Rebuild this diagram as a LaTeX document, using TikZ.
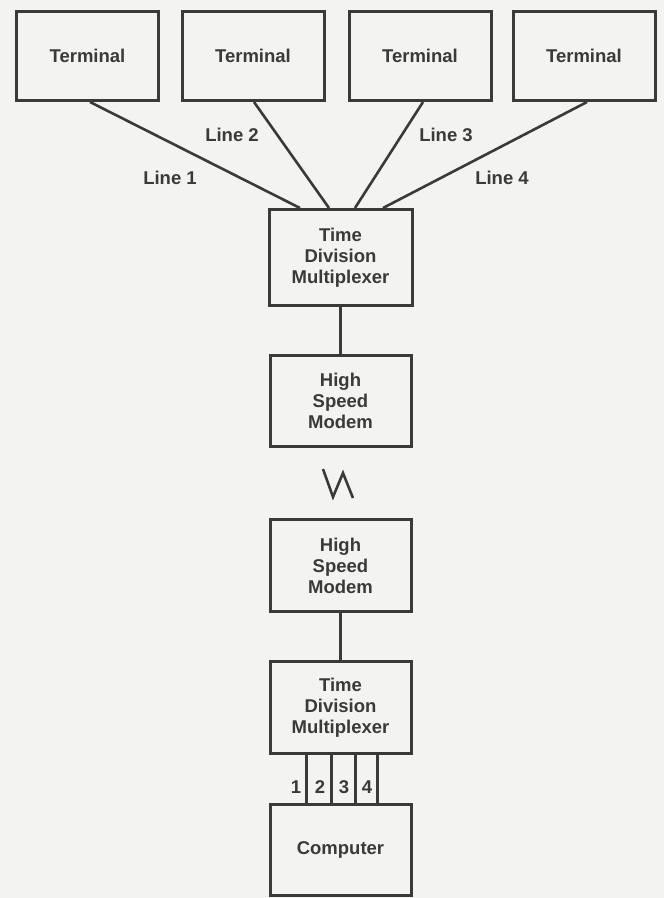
\documentclass[tikz,border=0pt]{standalone}
\usepackage{fontspec}
\setmainfont{Liberation Sans}
\usetikzlibrary{calc}
\definecolor{ink}{HTML}{3A3A3A}
\definecolor{paper}{HTML}{F3F3F1}
\tikzset{
  unitbox/.style={draw=ink, line width=3pt, fill=paper, inner sep=0pt,
    minimum width=141pt, minimum height=91pt, align=center, text=ink,
    font=\bfseries\fontsize{18.5}{21}\selectfont},
  termbox/.style={unitbox, minimum width=142pt, minimum height=89pt},
  wire/.style={draw=ink, line width=2.6pt},
  lbl/.style={text=ink, inner sep=1pt, font=\bfseries\fontsize{18.5}{21}\selectfont}
}
\begin{document}
\begin{tikzpicture}[x=1pt,y=-1pt]
    % Page
    \fill[paper] (0,0) rectangle (664,898);
    \useasboundingbox (0,0) rectangle (664,898);

    % Terminals
    \node[termbox] (t1) at (87.5,56) {Terminal};
    \node[termbox] (t2) at (253,56) {Terminal};
    \node[termbox] (t3) at (420,56) {Terminal};
    \node[termbox] (t4) at (584,56) {Terminal};

    % Multiplexer at terminal end
    \node[unitbox, minimum width=143pt, minimum height=96pt] (mux1) at (340.5,257.5)
        {Time\\Division\\Multiplexer};

    % Lines to the multiplexer
    \draw[wire] ($(t1.south)+(2.5,0)$) -- ($(mux1.north)+(-40.5,0)$);
    \draw[wire] ($(t2.south)+(1,0)$) -- ($(mux1.north)+(-11.5,0)$);
    \draw[wire] ($(t3.south)+(3,0)$) -- ($(mux1.north)+(14.5,0)$);
    \draw[wire] ($(t4.south)+(3,0)$) -- ($(mux1.north)+(42.5,0)$);
    \node[lbl] (l1) at (170,178) {Line 1};
    \node[lbl] (l2) at (232,135) {Line 2};
    \node[lbl] (l3) at (446,135) {Line 3};
    \node[lbl] (l4) at (502,178) {Line 4};

    % Modems
    \node[unitbox] (modem1) at (340.5,400.5) {High\\Speed\\Modem};
    \draw[wire] (mux1) -- (modem1);

    % Telephone link
    \draw[ink, line width=2.6pt, line join=miter]
        (323,469) -- (333,497) -- (343,473) -- (353,498);

    \node[unitbox, minimum height=92pt] (modem2) at (340.5,565.5) {High\\Speed\\Modem};

    % Multiplexer at computer end
    \node[unitbox, minimum height=92pt] (mux2) at (340.5,707.5)
        {Time\\Division\\Multiplexer};
    \draw[wire] (modem2) -- (mux2);

    % Computer
    \node[unitbox, minimum height=91pt] (comp) at (340.5,849.5) {Computer};

    % Ports 1 to 4
    \draw[wire] ($(mux2.south)+(-34,0)$) -- ($(comp.north)+(-34,0)$);
    \draw[wire] ($(mux2.south)+(-9,0)$) -- ($(comp.north)+(-9,0)$);
    \draw[wire] ($(mux2.south)+(15,0)$) -- ($(comp.north)+(15,0)$);
    \draw[wire] ($(mux2.south)+(37,0)$) -- ($(comp.north)+(37,0)$);
    \node[lbl] (p1) at (296,787) {1};
    \node[lbl] (p2) at (320,787) {2};
    \node[lbl] (p3) at (344,787) {3};
    \node[lbl] (p4) at (367,787) {4};
\end{tikzpicture}
\end{document}
